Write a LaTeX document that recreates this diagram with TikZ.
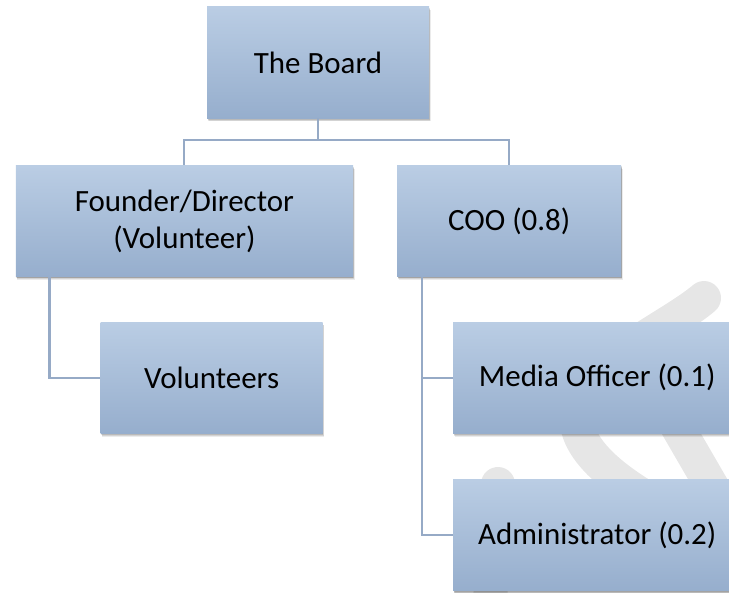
\documentclass[tikz,border=0pt]{standalone}
\usepackage{fontspec}
\setmainfont{Carlito}
\usepackage{tikz}
\usepackage{xcolor}
\usetikzlibrary{shadows}

\definecolor{boxtop}{RGB}{186,205,228}
\definecolor{boxbottom}{RGB}{150,174,205}
\definecolor{linkblue}{RGB}{150,170,198}
\definecolor{markgray}{RGB}{230,230,230}

\begin{document}
\begin{tikzpicture}[
    role/.style={
        top color=boxtop,
        bottom color=boxbottom,
        % soft shadow built from a few faint layers
        general shadow={shadow xshift=0.3pt, shadow yshift=-0.6pt,
            opacity=0.12, fill=black},
        general shadow={shadow xshift=0.6pt, shadow yshift=-1.2pt,
            opacity=0.12, fill=black},
        general shadow={shadow xshift=0.9pt, shadow yshift=-1.8pt,
            opacity=0.1, fill=black},
        general shadow={shadow xshift=1.2pt, shadow yshift=-2.4pt,
            opacity=0.08, fill=black},
        minimum width=5.55cm,
        minimum height=2.78cm,
        align=center,
        font=\fontsize{22}{26.5}\selectfont
    },
    branch/.style={draw=linkblue, line width=1.5pt},
    swoosh/.style={draw=markgray, line width=0.85cm, line cap=round}
]
    \useasboundingbox (0,0) rectangle (18.225,-14.8);
    \clip (0,0) rectangle (18.225,-14.8);

    % faint background swoosh
    \draw[swoosh] (17.6,-7.45) .. controls (16.25,-8.6) and (12,-10) .. (16.25,-12.5);
    \draw[swoosh] (16.4,-9.75) -- (18.4,-13.2);
    \draw[swoosh] (12.45,-12.1) -- (12.25,-15);

    \node[role] (board) at (7.95,-1.56) {The Board};
    \node[role, minimum width=8.43cm] (founder) at (4.61,-5.53)
        {Founder/Director\\(Volunteer)};
    \node[role, minimum width=5.6cm] (coo) at (12.73,-5.53) {COO (0.8)};

    \node[role] (volunteers) at (5.29,-9.44) {Volunteers};
    \node[role, minimum width=7.2cm] (media) at (14.93,-9.44)
        {Media Officer (0.1)};
    \node[role, minimum width=7.2cm] (admin) at (14.93,-13.38)
        {Administrator (0.2)};

    \draw[branch] (board.south) -- ++(0,-0.55) -| (founder.north);
    \draw[branch] (board.south) -- ++(0,-0.55) -| (coo.north);
    \draw[branch] ([xshift=0.85cm]founder.south west) |- (volunteers.west);
    \draw[branch] ([xshift=0.63cm]coo.south west) |- (media.west);
    \draw[branch] ([xshift=0.63cm]coo.south west) |- (admin.west);
\end{tikzpicture}
\end{document}
